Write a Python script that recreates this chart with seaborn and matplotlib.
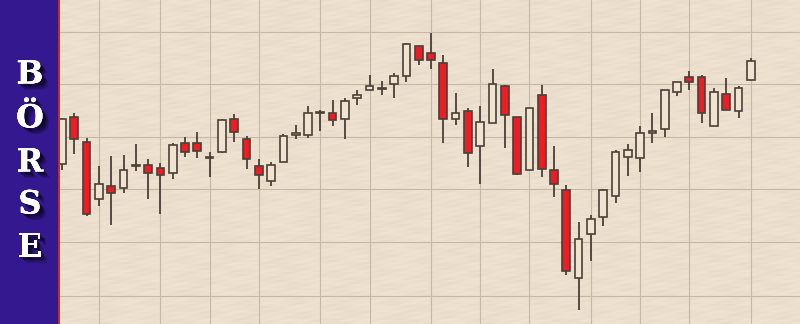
import numpy as np
import pandas as pd
import seaborn as sns
import matplotlib
matplotlib.use("Agg")
import matplotlib.pyplot as plt
import matplotlib.patheffects as pe

# ---- data ----
opens  = [160, 207, 182, 125, 138, 136, 158.5, 159, 156, 151, 181, 181, 166.5, 172, 205, 185, 158, 143, 162, 189,
          189, 211.5, 211, 205, 226, 234, 235.5, 240, 248, 278, 271, 261, 205, 213, 178, 201, 238, 207, 154, 229,
          154, 134, 46, 90, 107, 128, 167, 166, 191, 195, 232, 247, 247, 198, 230, 213, 244]
highs  = [206, 211, 186, 158, 168, 169, 180, 165, 161, 181, 187, 192, 172, 205, 210, 188, 165, 162, 190, 199,
          218, 214, 224, 226, 234, 249, 243, 251, 281, 278, 291, 269, 231, 216, 218, 255, 239, 207, 216, 239,
          178, 139, 102, 109, 135, 174, 180, 198, 211, 234, 242, 253, 249, 236, 246, 238, 266]
lows   = [154, 170, 108, 118, 99, 131, 153, 125, 110, 145, 167, 166, 147, 171, 182, 155, 135, 138, 162, 185,
          186, 193, 198, 185, 219, 234, 229, 226, 242, 259, 255, 181, 199, 157, 140, 201, 176, 149, 154, 147,
          127, 49, 14, 63, 98, 121, 148, 152, 181, 187, 228, 234, 201, 198, 214, 206, 244]
closes = [205, 185, 110, 140, 131, 154, 159.5, 151, 149, 179, 172, 173, 167.5, 204, 192, 165, 149, 159, 188, 191,
          211, 212.5, 204, 223, 229, 238, 236.5, 248, 280, 264, 264, 205, 211, 171, 202, 240, 209, 150, 216, 155,
          140, 53, 85, 105, 134, 172, 174, 191, 193, 234, 242, 242, 211, 232, 214, 236, 263]
grid_days = [3, 8, 12, 16, 21, 25, 30, 34, 38, 43, 47, 51, 56]
grid_levels = [28, 82, 135, 187, 240, 292]
title_letters = ["B", "Ö", "R", "S", "E"]

df = pd.DataFrame({"open": opens, "high": highs, "low": lows, "close": closes})
df["day"] = np.arange(len(df))
df["up"] = df["close"] >= df["open"]

# ---- style ----
sns.set_theme(style="white")
plt.rcParams["font.family"] = ["DejaVu Serif", "DejaVu Sans"]

BG = "#F0E3D0"
GRID = "#C6B8A6"
EDGE = "#4A4038"
RED = "#EC1D24"
PANEL = "#341890"

fig = plt.figure(figsize=(8.0, 3.24), dpi=100)
fig.patch.set_facecolor(BG)

ax = fig.add_axes([60 / 800, 0, 740 / 800, 1])
ax.set_facecolor(BG)
x0, x1 = (60 - 62) / 12.3, (800 - 62) / 12.3
ax.set_xlim(x0, x1)
ax.set_ylim(0, 324)

# subtle paper texture (deterministic pattern)
yy, xx = np.mgrid[0:162, 0:370]
tex = (np.sin(xx * 0.21 + np.sin(yy * 0.9) * 2.0) * np.sin(yy * 1.7 + xx * 0.05)
       + 0.6 * np.sin(xx * 0.63 + yy * 2.3))
ax.imshow(tex, cmap="Greys", alpha=0.05, extent=(x0, x1, 0, 324), aspect="auto",
          interpolation="bilinear", zorder=0)

ax.set_xticks(grid_days)
ax.set_yticks(grid_levels)
ax.tick_params(labelbottom=False, labelleft=False, length=0)
ax.grid(True, color=GRID, linewidth=0.8)
ax.set_axisbelow(True)
for s in ax.spines.values():
    s.set_visible(False)

# wicks
ax.vlines(df["day"], df["low"], df["high"], color=EDGE, linewidth=1.3, zorder=2)
# bodies
body_bottom = np.minimum(df["open"], df["close"])
body_height = np.maximum(np.abs(df["close"] - df["open"]), 1.0)
colors = np.where(df["up"], BG, RED)
ax.bar(df["day"], body_height, bottom=body_bottom, width=0.62, color=colors,
       edgecolor=EDGE, linewidth=1.2, zorder=3)

# ---- left panel ----
pax = fig.add_axes([0, 0, 60 / 800, 1])
pax.set_facecolor(PANEL)
pax.set_xlim(0, 60)
pax.set_ylim(324, 0)
pax.set_xticks([])
pax.set_yticks([])
for s in pax.spines.values():
    s.set_visible(False)
pax.axvline(59.2, color="#B8322E", linewidth=1.4)
ys = [75, 119, 163, 205, 248]
shadow = [pe.withSimplePatchShadow(offset=(o, -o), shadow_rgbFace="#0A0620", alpha=a)
          for o, a in [(4.5, 0.25), (3.5, 0.35), (2.5, 0.5), (1.5, 0.5)]]
for letter, y in zip(title_letters, ys):
    pax.text(30, y, letter, ha="center", va="center", fontsize=23, fontweight="bold",
             color="white", path_effects=shadow + [pe.Normal()])

fig.savefig("out.png", dpi=100, facecolor=BG)
